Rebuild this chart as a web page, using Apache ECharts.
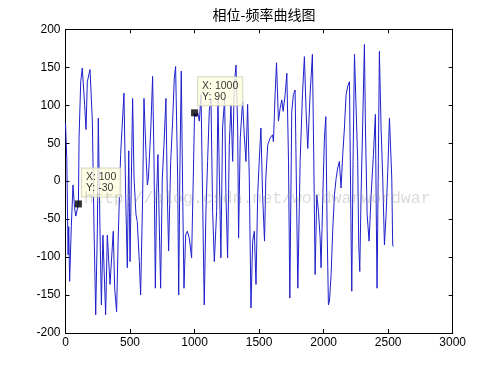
<!DOCTYPE html>
<html>
<head>
<meta charset="utf-8">
<script src="https://cdn.jsdelivr.net/npm/echarts@6/dist/echarts.min.js"></script>
<style>html,body{margin:0;padding:0;background:#fff}#c{width:500px;height:374px}</style>
</head>
<body>
<div id="c"></div>
<script>
var titleText = '相位-频率曲线图';
var watermarkText = 'http://blog.csdn.net/wordwarwordwar';
var xTicks = [0, 500, 1000, 1500, 2000, 2500, 3000];
var yTicks = [-200, -150, -100, -50, 0, 50, 100, 150, 200];
var freq = [0,10,20,25,32,45,58,70,80,100,105,118,130,148,159,169,190,208,221,234,247,254,267,278,290,311,324,345,370,381,396,407,427,453,466,479,490,500,520,531,546,556,572,582,598,608,624,634,642,655,662,675,686,696,706,716,727,737,750,763,778,789,799,815,830,843,853,869,877,887,897,908,918,931,944,959,977,990,1000,1011,1024,1037,1050,1075,1088,1101,1114,1127,1140,1153,1171,1181,1204,1217,1233,1243,1256,1269,1282,1295,1308,1321,1334,1341,1354,1372,1385,1398,1411,1424,1437,1450,1463,1476,1489,1501,1514,1527,1542,1552,1567,1586,1604,1611,1624,1635,1650,1663,1676,1686,1702,1715,1728,1738,1753,1766,1779,1790,1800,1818,1836,1851,1864,1877,1895,1913,1924,1934,1947,1960,1973,1980,1994,2006,2017,2027,2037,2045,2058,2071,2084,2097,2109,2122,2135,2148,2161,2174,2187,2200,2213,2218,2228,2239,2251,2264,2272,2280,2290,2303,2316,2324,2337,2352,2368,2386,2401,2409,2414,2424,2432,2445,2458,2471,2484,2497,2510,2517,2528,2535,2540];
var phase = [76,30,-97,-60,-132,-60,-5,-35,-46,-30,57,131,149,101,68,131,147,79,-62,-176,-62,83,-62,-163,-71,-176,-71,-136,-66,-141,-172,-84,35,116,-18,-114,40,-106,109,4,-44,-53,-106,-150,-18,109,35,-5,4,48,74,138,26,-141,-18,35,-62,-141,4,48,109,-18,-92,26,79,136,151,4,-150,26,145,-18,-141,-71,-66,-75,-101,4,90,85,90,79,114,-163,-40,26,92,109,-40,-106,-40,109,-101,70,109,-18,-101,48,101,26,127,153,70,-75,57,105,61,26,101,4,-167,-79,-66,-136,-18,26,70,-18,-79,4,48,57,61,52,114,156,79,96,107,92,114,142,26,-154,92,114,120,-18,-141,26,114,164,92,43,114,167,26,-123,-18,-40,-75,-114,-18,57,85,-62,-163,-158,-123,-62,-18,4,17,26,-9,35,70,114,125,131,-75,-145,26,167,167,26,-84,-119,-18,79,180,70,-44,-79,-18,35,88,-62,-141,26,171,70,4,-84,-44,13,83,85,4,-84,-86];
var tipX = [100, 1000];
var tipY = [-30, 90];

var lineData = freq.map(function (f, i) { return [f, phase[i]]; });
var tipData = tipX.map(function (x, i) { return [x, tipY[i]]; });

var chart = echarts.init(document.getElementById('c'), null, {renderer: 'canvas'});
var axisFont = {fontFamily: 'Liberation Sans, Arial, sans-serif', fontSize: 12, color: '#000'};
function xAx(pos, show) {
  return {
    type: 'value', position: pos, min: 0, max: 3000, interval: 500,
    axisLine: {show: true, onZero: false, lineStyle: {color: '#000', width: 1}},
    axisTick: {show: true, inside: true, length: 4, lineStyle: {color: '#000'}},
    axisLabel: Object.assign({show: show, margin: 4, formatter: function (v) { return xTicks.indexOf(v) >= 0 ? String(v) : ''; }}, axisFont),
    splitLine: {show: false}
  };
}
function yAx(pos, show) {
  return {
    type: 'value', position: pos, min: -200, max: 200, interval: 50,
    axisLine: {show: true, onZero: false, lineStyle: {color: '#000', width: 1}},
    axisTick: {show: true, inside: true, length: 4, lineStyle: {color: '#000'}},
    axisLabel: Object.assign({show: show, margin: 5, formatter: function (v) { return yTicks.indexOf(v) >= 0 ? String(v) : ''; }}, axisFont),
    splitLine: {show: false}
  };
}
chart.setOption({
  animation: false,
  backgroundColor: '#fff',
  title: {
    text: titleText, left: 259, top: 3, textAlign: 'center',
    textStyle: {fontFamily: 'Noto Sans CJK SC, sans-serif', fontSize: 14, fontWeight: 'normal', color: '#000'}
  },
  grid: {left: 65.5, right: 47.3, top: 29.3, bottom: 41, containLabel: false},
  xAxis: [xAx('bottom', true), xAx('top', false)],
  yAxis: [yAx('left', true), yAx('right', false)],
  graphic: [{
    type: 'text', left: 84, top: 190, z: 50, silent: true,
    style: {text: watermarkText, font: '16.5px "Liberation Mono", monospace', fill: 'rgba(150,150,150,0.35)'}
  }],
  series: [{
    type: 'line', xAxisIndex: 0, yAxisIndex: 0, data: lineData,
    showSymbol: false, symbol: 'none',
    lineStyle: {color: '#1f1fcc', width: 1},
    z: 2
  }, {
    type: 'scatter', xAxisIndex: 0, yAxisIndex: 0, data: tipData,
    symbol: 'rect', symbolSize: 7,
    itemStyle: {color: '#000'},
    z: 10,
    label: {
      show: true, position: [7, -32],
      formatter: function (p) { return 'X: ' + p.value[0] + '\nY: ' + p.value[1]; },
      fontFamily: 'Liberation Sans, Arial, sans-serif', fontSize: 10.5, lineHeight: 11, color: '#000',
      backgroundColor: '#ffffe1', borderColor: '#cfcfb8', borderWidth: 1, padding: [3, 4, 3, 4]
    }
  }]
});
</script>
</body>
</html>
